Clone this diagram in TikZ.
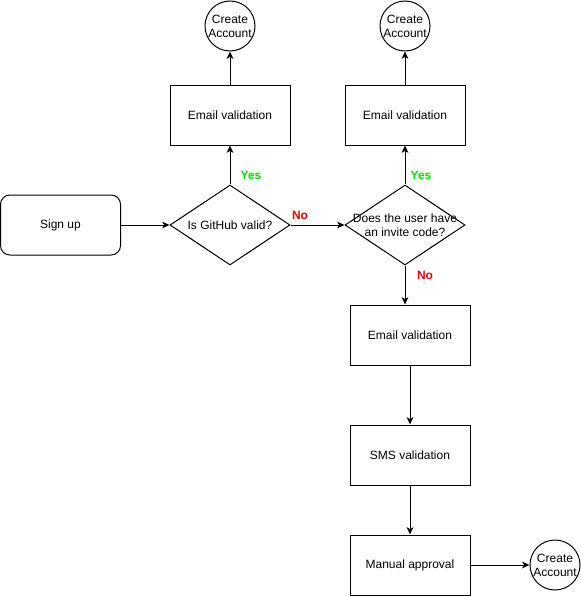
\documentclass[tikz,border=0pt]{standalone}
\usepackage{fontspec}
\setmainfont{Liberation Sans}
\usetikzlibrary{shapes.geometric,arrows.meta}

\definecolor{yesgreen}{RGB}{0,220,0}
\definecolor{nored}{RGB}{230,0,0}

\tikzset{
  flowbox/.style={draw,line width=0.75pt,minimum width=90pt,minimum height=45pt,inner sep=0pt,font=\fontsize{9}{10.5}\selectfont},
  startbox/.style={flowbox,rounded corners=7pt},
  choice/.style={draw,line width=0.75pt,diamond,minimum width=90pt,minimum height=60pt,inner sep=0pt},
  endcircle/.style={draw,line width=0.75pt,circle,minimum size=37.5pt,inner sep=0pt},
  centertext/.style={label={[align=center,inner sep=0pt,font=\fontsize{9}{10.5}\selectfont]center:#1}},
  flowline/.style={line width=0.75pt,-{Stealth[length=5.5pt,width=5pt,inset=1.5pt]}},
  answer/.style={inner sep=0.75pt,font=\fontsize{9}{10.5}\selectfont\bfseries}
}

\begin{document}
\begin{tikzpicture}[x=0.75pt,y=0.75pt,yscale=-1,xscale=1]
\useasboundingbox (0,0) rectangle (581,596);

%Shape: Rounded Rect
\draw (60.5,225) node [startbox] (signup) {Sign up};
%Shape: Diamond
\draw (230,225) node [choice,centertext={Is GitHub valid?}] (github) {};
%Shape: Diamond
\draw (405,225) node [choice,centertext={Does the user have\\an invite code?}] (invite) {};
%Shape: Rectangle
\draw (230,115) node [flowbox] (emaila) {Email validation};
%Shape: Rectangle
\draw (405,115) node [flowbox] (emailb) {Email validation};
%Shape: Rectangle
\draw (410,335) node [flowbox] (emailc) {Email validation};
%Shape: Rectangle
\draw (410,455) node [flowbox] (sms) {SMS validation};
%Shape: Rectangle
\draw (410,565) node [flowbox] (manual) {Manual approval};
%Shape: Circle
\draw (230,26) node [endcircle,centertext={Create\\Account}] (createa) {};
%Shape: Circle
\draw (405,26) node [endcircle,centertext={Create\\Account}] (createb) {};
%Shape: Circle
\draw (555,565) node [endcircle,centertext={Create\\Account}] (createc) {};

%Straight Lines
\draw [flowline] (signup) -- (github);
\draw [flowline] (github) -- (invite);
\draw [flowline] (github) -- (emaila);
\draw [flowline] (emaila) -- (createa);
\draw [flowline] (invite) -- (emailb);
\draw [flowline] (emailb) -- (createb);
\draw [flowline] (invite.south) -- (invite.south |- emailc.north);
\draw [flowline] (emailc) -- (sms);
\draw [flowline] (sms) -- (manual);
\draw [flowline] (manual) -- (createc);

% Text Node
\draw (251,175) node [answer,text=yesgreen] (yesa) {Yes};
% Text Node
\draw (300,215) node [answer,text=nored] (noa) {No};
% Text Node
\draw (421,175) node [answer,text=yesgreen] (yesb) {Yes};
% Text Node
\draw (425,275) node [answer,text=nored] (nob) {No};

\end{tikzpicture}
\end{document}
